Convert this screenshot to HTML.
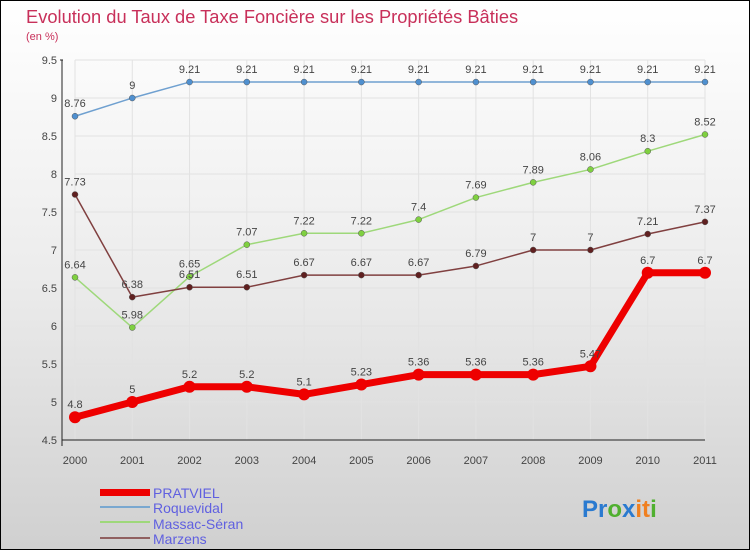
<!DOCTYPE html>
<html><head><meta charset="utf-8"><style>
html,body{margin:0;padding:0}
body{width:750px;height:550px;overflow:hidden;font-family:"Liberation Sans",sans-serif}
</style></head><body>
<svg width="750" height="550" xmlns="http://www.w3.org/2000/svg">
<defs><linearGradient id="bg" x1="0" y1="0" x2="0" y2="1"><stop offset="0" stop-color="#ffffff"/><stop offset="0.5" stop-color="#ececec"/><stop offset="1" stop-color="#d0d0d0"/></linearGradient></defs>
<rect x="0.5" y="0.5" width="749" height="549" fill="url(#bg)" stroke="#000"/>
<text x="26" y="23" font-size="18.3" fill="#c8305a">Evolution du Taux de Taxe Foncière sur les Propriétés Bâties</text>
<text x="26" y="40" font-size="11" fill="#c8305a">(en %)</text>
<g id="grid"></g><g id="axes"></g><g id="series"></g>
<g font-size="14" fill="#6060e0">
<rect x="100" y="489" width="50" height="7" fill="#ee0000"/>
<text x="153" y="498" fill="#6060e0">PRATVIEL</text>
<line x1="100" y1="507" x2="150" y2="507" stroke="#7aa8d0" stroke-width="2"/>
<text x="153" y="513" fill="#6060e0">Roquevidal</text>
<line x1="100" y1="522" x2="150" y2="522" stroke="#9ed87a" stroke-width="2"/>
<text x="153" y="529" fill="#6060e0">Massac-Séran</text>
<line x1="100" y1="538" x2="150" y2="538" stroke="#906060" stroke-width="2"/>
<text x="153" y="544" fill="#6060e0">Marzens</text>
</g>
<text x="582" y="517" font-size="24" font-weight="bold"><tspan fill="#2a7ad0">Pr</tspan><tspan fill="#50b030">o</tspan><tspan fill="#2a7ad0">x</tspan><tspan fill="#f08020">it</tspan><tspan fill="#50b030">i</tspan></text>
</svg>
<script>
const years=[2000,2001,2002,2003,2004,2005,2006,2007,2008,2009,2010,2011];
const yTicks=[4.5,5,5.5,6,6.5,7,7.5,8,8.5,9,9.5];
const yTickLabels=["4.5","5","5.5","6","6.5","7","7.5","8","8.5","9","9.5"];
const pratviel=[4.8,5,5.2,5.2,5.1,5.23,5.36,5.36,5.36,5.47,6.7,6.7];
const roquevidal=[8.76,9,9.21,9.21,9.21,9.21,9.21,9.21,9.21,9.21,9.21,9.21];
const massac=[6.64,5.98,6.65,7.07,7.22,7.22,7.4,7.69,7.89,8.06,8.3,8.52];
const marzens=[7.73,6.38,6.51,6.51,6.67,6.67,6.67,6.79,7,7,7.21,7.37];
const NS="http://www.w3.org/2000/svg";
const X=i=>75+i*(630/11);
const Y=v=>60+(9.5-v)*76;
function mk(t,a,p){const e=document.createElementNS(NS,t);for(const k in a)e.setAttribute(k,a[k]);p.appendChild(e);return e;}
const grid=document.getElementById('grid'),axes=document.getElementById('axes'),ser=document.getElementById('series');
yTicks.forEach((v,i)=>{
 const l=mk('line',{x1:75,x2:705,y1:Y(v),y2:Y(v),stroke:'#e2e2e2','stroke-width':1},grid);
 
 
 const t=mk('text',{x:57,y:Y(v)+4,'font-size':11,fill:'#444','text-anchor':'end'},axes);t.textContent=yTickLabels[i];
 
 
});
years.forEach((yr,i)=>{
 const l=mk('line',{x1:X(i),x2:X(i),y1:60,y2:440,stroke:'#e2e2e2','stroke-width':1},grid);
 
 
 const t=mk('text',{x:X(i),y:464,'font-size':11,fill:'#444','text-anchor':'middle'},axes);t.textContent=yr;
 
 
});
const ax=mk('path',{d:'M60,60 H63 M62,60 V440 H705 M62,440 V446',stroke:'#222',fill:'none'},axes);


function series(name,vals,col,w,r,dot){
 const g=mk('g',{},ser);
 
 
 const p=mk('polyline',{points:vals.map((v,i)=>X(i)+','+Y(v)).join(' '),fill:'none',stroke:col,'stroke-width':w,'stroke-linejoin':'round'},g);
 
 
 vals.forEach((v,i)=>{
  const c=mk('circle',{cx:X(i),cy:Y(v),r:r,fill:dot,stroke:'#555','stroke-width':r>4?0:0.5},g);
  
  
  const t=mk('text',{x:X(i),y:Y(v)-9,'font-size':11,fill:'#444','text-anchor':'middle'},g);t.textContent=String(v);
  
  
 });
}
series('roquevidal',roquevidal,'#6fa0d0',1.5,3,'#4f90d0');
series('massac',massac,'#9ed87a',1.5,3,'#7fd040');
series('marzens',marzens,'#804040',1.5,3,'#602020');
series('pratviel',pratviel,'#ee0000',7,6,'#ee0000');
</script>
</body></html>
